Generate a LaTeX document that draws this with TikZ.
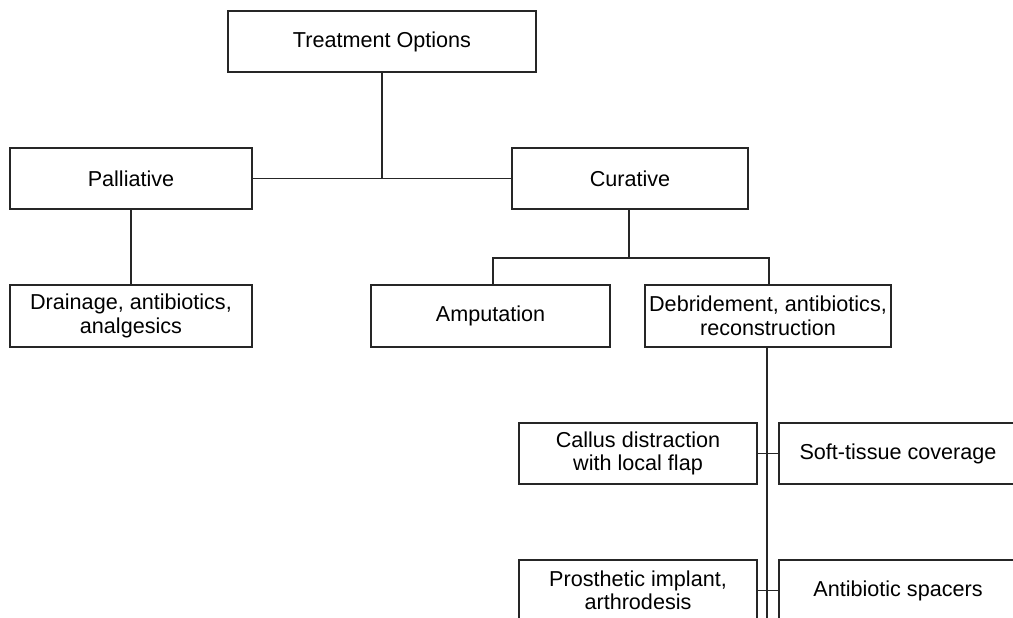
\documentclass[tikz,border=0pt]{standalone}
\usepackage{fontspec}
\setmainfont{Liberation Sans}
\begin{document}
\begin{tikzpicture}[x=1pt,y=-1pt,
  box/.style={draw=black!85, line width=1.6pt, rectangle, inner sep=0pt,
    align=center, font=\fontsize{21.6}{23.5}\selectfont, text=black},
  link/.style={draw=black!85, line width=1.6pt}]
\useasboundingbox (0,0) rectangle (1013,618);
\clip (0,0) rectangle (1013,618);
\node[box, minimum width=308pt, minimum height=61pt] (to) at (382,41.5) {Treatment Options};
\node[box, minimum width=242pt, minimum height=61pt] (pal) at (131,178.5) {Palliative};
\node[box, minimum width=236pt, minimum height=61pt] (cur) at (630,178.5) {Curative};
\node[box, minimum width=242pt, minimum height=62pt] (drain) at (131,316) {Drainage, antibiotics,\\analgesics};
\node[box, minimum width=239pt, minimum height=62pt] (amp) at (490.5,316) {Amputation};
\node[box, minimum width=246pt, minimum height=62pt] (deb) at (768,316) {Debridement, antibiotics,\\reconstruction};
\node[box, minimum width=238pt, minimum height=61pt] (cal) at (638,453.5) {Callus distraction\\with local flap};
\node[box, minimum width=238pt, minimum height=61pt] (soft) at (898,453.5) {Soft-tissue coverage};
\node[box, minimum width=238pt, minimum height=61pt] (pros) at (638,590.5) {Prosthetic implant,\\arthrodesis};
\node[box, minimum width=238pt, minimum height=61pt] (anti) at (898,590.5) {Antibiotic spacers};
\coordinate (j1) at (382,178.5);
\coordinate (j2) at (629,258);
\coordinate (ja) at (493,258);
\coordinate (jd) at (769,258);
\coordinate (end) at (767,640);
\draw[link] (to.south) -- (j1);
\draw[link] (pal.east) -- (cur.west);
\draw[link] (pal.south) -- (drain.north);
\draw[link] (cur.south -| j2) -- (j2);
\draw[link] (ja |- amp.north) -- (ja) -- (jd) -- (jd |- deb.north);
\draw[link] (end |- deb.south) -- (end);
\draw[link] (cal.east) -- (soft.west);
\draw[link] (pros.east) -- (anti.west);
\end{tikzpicture}
\end{document}
